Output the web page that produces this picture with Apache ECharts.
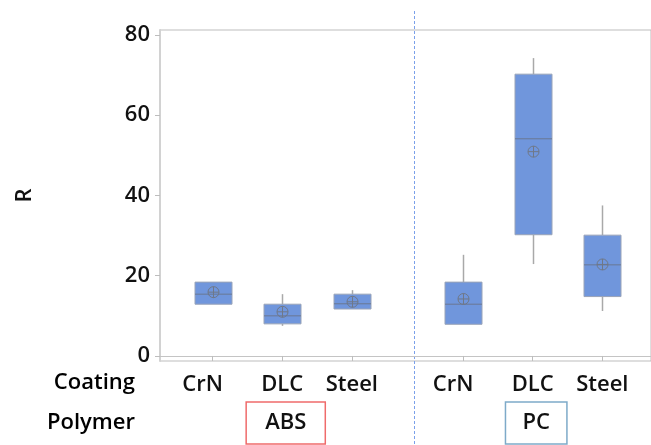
<!DOCTYPE html>
<html>
<head>
<meta charset="utf-8">
<script src="https://cdn.jsdelivr.net/npm/echarts@6/dist/echarts.min.js"></script>
<style>
  html, body { margin: 0; padding: 0; background: #fff; }
  #container { width: 651px; height: 445px; }
</style>
</head>
<body>
<div id="container"></div>
<script>
var polymers = ['ABS', 'PC'];
var coatings = ['CrN', 'DLC', 'Steel'];
var rowTitles = ['Coating', 'Polymer'];

// one entry per box, ABS first then PC
var whiskerLow  = [12.9,  7.5, 11.7,  7.9, 22.9, 11.2];
var q1          = [12.9,  8.0, 11.7,  7.9, 30.2, 14.8];
var median      = [15.4, 10.0, 13.0, 12.9, 54.1, 22.7];
var q3          = [18.4, 12.9, 15.4, 18.4, 70.2, 30.1];
var whiskerHigh = [18.4, 15.4, 16.4, 25.2, 74.2, 37.5];
var means       = [15.9, 11.0, 13.5, 14.2, 50.9, 22.8];

var yTicks = [0, 20, 40, 60, 80];

// layout of the x scale (units: one box slot)
var groupGap = 0.6;
var xMin = 0.243, xMax = 7.3;
var boxWidth = 37;
var font = "'Open Sans', 'Noto Sans', sans-serif";
var txt = { fontFamily: font, fontSize: 22, fontWeight: 600, color: '#111' };

var xPos = [];
var boxData = [];
polymers.forEach(function (p, g) {
  coatings.forEach(function (c, i) {
    var k = g * coatings.length + i;
    var x = g * (coatings.length + groupGap) + i + 1;
    xPos.push(x);
    boxData.push([x, whiskerLow[k], q1[k], median[k], q3[k], whiskerHigh[k], means[k]]);
  });
});
var polymerPos = polymers.map(function (p, g) {
  return xPos[g * coatings.length + 1] + 0.05;
});
var dividerX = (xPos[2] + xPos[3]) / 2 + 0.1;

function nearestIndex(arr, v) {
  var best = 0;
  arr.forEach(function (a, i) {
    if (Math.abs(a - v) < Math.abs(arr[best] - v)) best = i;
  });
  return best;
}

var dom = document.getElementById('container');
var myChart = echarts.init(dom, null, { renderer: 'canvas' });

function renderBox(params, api) {
  var x = api.value(0);
  var pLow = api.coord([x, api.value(1)]);
  var pQ1 = api.coord([x, api.value(2)]);
  var pMed = api.coord([x, api.value(3)]);
  var pQ3 = api.coord([x, api.value(4)]);
  var pHigh = api.coord([x, api.value(5)]);
  var pMean = api.coord([x, api.value(6)]);
  var half = boxWidth / 2;
  var cx = Math.round(pMed[0]) + 0.5;
  var whiskerStyle = { stroke: '#a9a9a9', lineWidth: 1.5 };
  var children = [];
  if (pHigh[1] < pQ3[1] - 0.5) {
    children.push({ type: 'line', shape: { x1: cx, y1: pHigh[1], x2: cx, y2: pQ3[1] }, style: whiskerStyle });
  }
  if (pLow[1] > pQ1[1] + 0.5) {
    children.push({ type: 'line', shape: { x1: cx, y1: pQ1[1], x2: cx, y2: pLow[1] }, style: whiskerStyle });
  }
  children.push({
    type: 'rect',
    shape: { x: cx - half, y: pQ3[1], width: boxWidth, height: pQ1[1] - pQ3[1] },
    style: { fill: '#7096dc', stroke: '#9aa4b8', lineWidth: 1 }
  });
  children.push({
    type: 'line',
    shape: { x1: cx - half, y1: pMed[1], x2: cx + half, y2: pMed[1] },
    style: { stroke: '#6a7893', lineWidth: 1 }
  });
  var r = 5.5;
  var meanStyle = { stroke: '#6f7888', lineWidth: 1, fill: null };
  children.push({ type: 'circle', shape: { cx: cx, cy: pMean[1], r: r }, style: meanStyle });
  children.push({ type: 'line', shape: { x1: cx - r, y1: pMean[1], x2: cx + r, y2: pMean[1] }, style: meanStyle });
  children.push({ type: 'line', shape: { x1: cx, y1: pMean[1] - r, x2: cx, y2: pMean[1] + r }, style: meanStyle });
  return { type: 'group', children: children };
}

var option = {
  animation: false,
  grid: {
    left: 160, right: -4, top: 30, bottom: 84,
    show: true, borderColor: '#bdbdbd', borderWidth: 1
  },
  xAxis: [
    {
      type: 'value', min: xMin, max: xMax, position: 'bottom',
      splitLine: { show: false },
      axisLine: { show: true, lineStyle: { color: '#c4c4c4' } },
      axisTick: { show: true, customValues: xPos, length: 5, lineStyle: { color: '#bdbdbd' } },
      axisLabel: Object.assign({
        customValues: xPos, margin: 13,
        formatter: function (v) {
          var name = coatings[nearestIndex(xPos, v) % coatings.length];
          return name === 'CrN' ? '{c|' + name + '}' : name;
        },
        rich: {
          c: Object.assign({ padding: [0, 20, 0, 0] }, txt)
        }
      }, txt)
    },
    {
      type: 'value', min: xMin, max: xMax, position: 'bottom', offset: 40,
      splitLine: { show: false },
      axisLine: { show: false },
      axisTick: { show: false },
      axisLabel: {
        customValues: polymerPos, margin: 1,
        formatter: function (v) {
          var name = polymers[nearestIndex(polymerPos, v)];
          return '{' + name.toLowerCase() + '|' + name + '}';
        },
        rich: {
          abs: Object.assign({ borderColor: '#ef6b6b', borderWidth: 1.5, padding: [10, 19, 10, 19] }, txt),
          pc: Object.assign({ borderColor: '#7eaac9', borderWidth: 1.5, padding: [10, 17, 10, 17] }, txt)
        }
      }
    }
  ],
  yAxis: {
    type: 'value', min: -1.25, max: 81.2,
    name: 'R', nameLocation: 'middle', nameGap: 124,
    nameTextStyle: txt,
    splitLine: { show: false },
    axisLine: { show: true, lineStyle: { color: '#d2d2d2', width: 2 } },
    axisTick: { show: true, customValues: yTicks, length: 5, lineStyle: { color: '#bdbdbd' } },
    axisLabel: Object.assign({ customValues: yTicks, margin: 10 }, txt)
  },
  graphic: rowTitles.map(function (t, i) {
    return {
      type: 'text', silent: true,
      right: 651 - 135, top: 372 + i * 40,
      style: Object.assign({ text: t }, txt)
    };
  }),
  series: [
    {
      type: 'custom',
      xAxisIndex: 0,
      renderItem: renderBox,
      encode: { x: 0, y: [1, 2, 3, 4, 5, 6] },
      data: boxData,
      clip: false
    }
  ]
};

myChart.setOption(option);

var dx = Math.round(myChart.convertToPixel({ xAxisIndex: 0 }, dividerX)) + 0.5;
myChart.setOption({
  graphic: [{
    id: 'divider', type: 'line', silent: true,
    shape: { x1: dx, y1: 11, x2: dx, y2: 445 },
    style: { stroke: '#7aa0ea', lineWidth: 1, lineDash: [3, 2] }
  }]
});

window.addEventListener('resize', myChart.resize);
</script>
</body>
</html>
